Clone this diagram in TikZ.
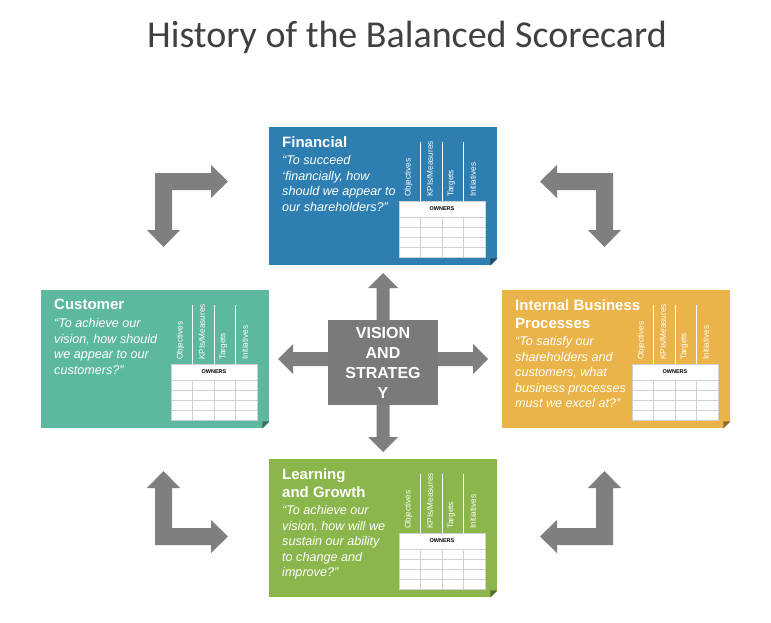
\documentclass[tikz,border=0pt]{standalone}
\usepackage{fontspec}
\setmainfont{Liberation Sans}
\newfontfamily\titlefont{Carlito}
\usetikzlibrary{calc}
\definecolor{finblue}{HTML}{2E7EB1}
\definecolor{custeal}{HTML}{5DB8A0}
\definecolor{ibpgold}{HTML}{EBB44A}
\definecolor{lrngreen}{HTML}{8BB64C}
\definecolor{arrowgray}{HTML}{7F7F7F}
\definecolor{boxgray}{HTML}{7A7A7A}
\definecolor{titlegray}{HTML}{404040}
\definecolor{cellline}{HTML}{D0D0D0}
\tikzset{
  cardbox/.style={draw=none, minimum width=228pt, minimum height=138pt, inner sep=0pt},
  cardtitle/.style={anchor=north west, inner sep=0pt, align=left, text=white,
    font=\fontsize{15}{18}\selectfont\bfseries},
  cardquote/.style={anchor=north west, inner sep=0pt, align=left, text=white,
    font=\fontsize{12.6}{15.5}\selectfont\itshape},
  colhead/.style={rotate=90, anchor=west, inner sep=0pt, text=white,
    font=\fontsize{8.2}{9}\selectfont},
  ownerhead/.style={inner sep=0pt, font=\fontsize{5.5}{6}\selectfont\bfseries, text=black},
  gridline/.style={draw=cellline, line width=0.8pt},
  colsep/.style={draw=white, line width=0.8pt},
  bentarrow/.style={fill=arrowgray, draw=none},
}
% name, x, y, colour, title, quote, number of title lines
\newcommand{\scCard}[7]{%
  \node[cardbox, fill=#4, anchor=north west] (#1) at (#2,#3) {};
  \fill[white] (#1.south east) -- ++(-7pt,0pt) -- ++(7pt,7pt) -- cycle;
  \fill[#4!60!black] ($(#1.south east)+(-7pt,0pt)$) -- ++(7pt,7pt) -- ++(-7pt,0pt) -- cycle;
  \node[cardtitle] (#1-title) at ({#2+13},{#3+9}) {#5};
  \node[cardquote] (#1-quote) at ({#2+13},{#3+10.5+18*#7}) {#6};
  % table
  \fill[white] ({#2+130},{#3+74}) rectangle ({#2+216},{#3+130});
  \foreach \dy in {16,26,36,46} {
    \draw[gridline] ({#2+130},{#3+74+\dy}) -- ({#2+216},{#3+74+\dy});
  }
  \foreach \dx in {21.5,43,64.5} {
    \draw[gridline] ({#2+130+\dx},{#3+90}) -- ({#2+130+\dx},{#3+130});
    \draw[colsep] ({#2+130+\dx},{#3+74}) -- ({#2+130+\dx},{#3+15});
  }
  \draw[gridline] ({#2+130},{#3+74}) rectangle ({#2+216},{#3+130});
  \node[ownerhead] (#1-own) at ({#2+173},{#3+82}) {OWNERS};
  \node[colhead] (#1-c1) at ({#2+139.5},{#3+70}) {Objectives};
  \node[colhead] (#1-c2) at ({#2+161},{#3+70}) {KPIs/Measures};
  \node[colhead] (#1-c3) at ({#2+182.5},{#3+70}) {Targets};
  \node[colhead] (#1-c4) at ({#2+204},{#3+70}) {Initiatives};
}
\begin{document}
\begin{tikzpicture}[x=1pt, y=-1pt]
\useasboundingbox (0,0) rectangle (771,623);
\fill[white] (0,0) rectangle (771,623);

\node[font=\titlefont\fontsize{38}{44}\selectfont, text=titlegray, inner sep=0pt] (title) at (407,37) {History of the Balanced Scorecard};

% corner arrows
\fill[bentarrow, shift={(155,173)}] (0,0) -- (56,0) -- (56,-8) -- (73,8.5) -- (56,25) -- (56,17) -- (17,17) -- (17,57) -- (25,57) -- (8.5,74) -- (-8,57) -- (0,57) -- cycle;
\fill[bentarrow, shift={(613,173)}, xscale=-1] (0,0) -- (56,0) -- (56,-8) -- (73,8.5) -- (56,25) -- (56,17) -- (17,17) -- (17,57) -- (25,57) -- (8.5,74) -- (-8,57) -- (0,57) -- cycle;
\fill[bentarrow, shift={(155,545)}, yscale=-1] (0,0) -- (56,0) -- (56,-8) -- (73,8.5) -- (56,25) -- (56,17) -- (17,17) -- (17,57) -- (25,57) -- (8.5,74) -- (-8,57) -- (0,57) -- cycle;
\fill[bentarrow, shift={(613,545)}, xscale=-1, yscale=-1] (0,0) -- (56,0) -- (56,-8) -- (73,8.5) -- (56,25) -- (56,17) -- (17,17) -- (17,57) -- (25,57) -- (8.5,74) -- (-8,57) -- (0,57) -- cycle;

% cards
\scCard{fin}{269}{127}{finblue}{Financial}{“To succeed\\‘financially, how\\should we appear to\\our shareholders?”}{1}
\scCard{cus}{41}{290}{custeal}{Customer}{“To achieve our\\vision, how should\\we appear to our\\customers?”}{1}
\scCard{ibp}{502}{290}{ibpgold}{Internal Business\\Processes}{“To satisfy our\\shareholders and\\customers, what\\business processes\\must we excel at?”}{2}
\scCard{lrn}{269}{459}{lrngreen}{Learning\\and Growth}{“To achieve our\\vision, how will we\\sustain our ability\\to change and\\improve?”}{2}

% central cross arrows
\fill[bentarrow] (376.5,288) -- (368,288) -- (383,273) -- (398,288) -- (389.5,288) -- (389.5,437) -- (398,437) -- (383,452) -- (368,437) -- (376.5,437) -- cycle;
\fill[bentarrow] (293,352) -- (293,344) -- (278,359) -- (293,374) -- (293,366) -- (473,366) -- (473,374) -- (488,359) -- (473,344) -- (473,352) -- cycle;

\node[fill=boxgray, minimum width=110pt, minimum height=85pt, inner sep=0pt, align=center, text=white,
  font=\fontsize{16}{20}\selectfont\bfseries] (vs) at (383,362.5) {VISION\\AND\\STRATEG\\Y};
\end{tikzpicture}
\end{document}
